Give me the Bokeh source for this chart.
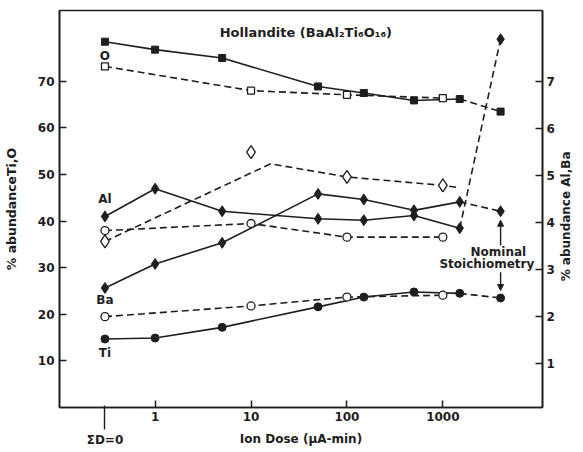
import math
from bokeh.plotting import figure
from bokeh.models import (Range1d, LinearAxis, LogAxis, FixedTicker, Label, Arrow, NormalHead)
from bokeh.embed import file_html
from bokeh.resources import INLINE

# ---------------- data ----------------
SIGMA_D0 = 0.3          # position used for the "ΣD=0" column on the log axis
NOMINAL = 4000          # position of the nominal-stoichiometry column

dose = [SIGMA_D0, 1, 5, 50, 150, 500, 1500]          # filled symbols (solid lines)
dose_open = [SIGMA_D0, 10, 100, 1000]                # open symbols (dashed lines)

# left scale: % abundance Ti, O
o_filled = [78.5, 76.8, 75.0, 68.9, 67.5, 65.9, 66.2]
o_open = [73.2, 68.0, 67.1, 66.4]
o_nominal = 63.5
ti_filled = [14.7, 14.9, 17.2, 21.6, 23.7, 24.8, 24.5]
ti_open = [19.5, 21.8, 23.7, 24.1]
ti_nominal = 23.5

# right scale: % abundance Al, Ba
al_filled = [4.12, 4.71, 4.23, 4.07, 4.04, 4.14, 3.87]
al_nominal = 7.89
ba_filled = [2.60, 3.11, 3.56, 4.60, 4.48, 4.25, 4.43]
ba_nominal = 4.23
diamond_open = [3.59, 5.49, 4.96, 4.78]
diamond_trend_x = [SIGMA_D0, 16, 100, 1000, 1400]
diamond_trend_y = [3.59, 5.24, 4.96, 4.78, 4.74]
circle_open = [3.82, 3.97, 3.68, 3.68]

x_ticks = [1, 10, 100, 1000]
left_ticks = [10, 20, 30, 40, 50, 60, 70]
right_ticks = [1, 2, 3, 4, 5, 6, 7]
RIGHT_TITLE = "% abundance Al,Ba"
RIGHT_TITLE_START = 2.74   # where the rotated right-hand title begins (right scale)

# ---------------- styling ----------------
INK = "#1e1e1e"
FONT = "DejaVu Sans"
DASH = "7 4"
LW = 1.6

p = figure(width=583, height=452, x_axis_type="log",
           x_range=Range1d(0.1007, 10940), y_range=Range1d(0, 85.2),
           output_backend="svg", toolbar_location=None,
           min_border_left=58, min_border_right=35,
           min_border_top=10, min_border_bottom=45)
p.extra_y_ranges = {"right": Range1d(0.057, 8.50)}
p.xgrid.visible = False
p.ygrid.visible = False
p.outline_line_color = INK
p.outline_line_width = 1.6
p.background_fill_color = "white"
p.border_fill_color = "white"

def style_axis(ax):
    ax.axis_line_color = INK
    ax.axis_line_width = 1.6
    ax.major_tick_line_color = INK
    ax.major_tick_line_width = 1.5
    ax.major_tick_in = 7
    ax.major_tick_out = 0
    ax.minor_tick_line_color = None
    ax.major_label_text_font = FONT
    ax.major_label_text_font_style = "bold"
    ax.major_label_text_font_size = "12px"
    ax.major_label_text_color = INK
    ax.axis_label_text_font = FONT
    ax.axis_label_text_font_style = "bold"
    ax.axis_label_text_color = INK

# main bottom axis (decade ticks)
xa = p.xaxis[0]
style_axis(xa)
xa.ticker = FixedTicker(ticks=x_ticks)
xa.major_label_overrides = {t: str(t) for t in x_ticks}
xa.major_label_standoff = 4

# second bottom axis: the "ΣD=0" marker and the axis title
xb = LogAxis(ticker=FixedTicker(ticks=[SIGMA_D0]))
style_axis(xb)
xb.axis_line_color = None
xb.major_tick_in = 18
xb.major_tick_out = 6
xb.major_tick_line_width = 1.4
xb.major_label_overrides = {SIGMA_D0: "ΣD=0"}
xb.major_label_standoff = 3
xb.axis_label = "Ion Dose (μA-min)"
xb.axis_label_text_font_size = "12px"
xb.axis_label_standoff = -18
p.add_layout(xb, "below")

ya = p.yaxis[0]
style_axis(ya)
ya.ticker = FixedTicker(ticks=left_ticks)
ya.major_label_standoff = 5
ya.axis_label = "% abundanceTi,O"
ya.axis_label_text_font_size = "12.5px"
ya.axis_label_standoff = 16

ra = LinearAxis(y_range_name="right", ticker=FixedTicker(ticks=right_ticks))
style_axis(ra)
ra.major_label_standoff = 4
p.add_layout(ra, "right")

# right-hand title, reading bottom-to-top like the left one
rt = LinearAxis(y_range_name="right", ticker=FixedTicker(ticks=[RIGHT_TITLE_START]))
style_axis(rt)
rt.axis_line_color = None
rt.major_tick_line_color = None
rt.major_tick_in = 0
rt.major_label_overrides = {RIGHT_TITLE_START: RIGHT_TITLE}
rt.major_label_text_font_size = "12px"
rt.major_label_orientation = math.pi / 2
rt.major_label_standoff = 9
p.add_layout(rt, "right")

# ---------------- series ----------------
# O (left)
p.line(dose, o_filled, line_color=INK, line_width=LW)
p.line([dose[-1], NOMINAL], [o_filled[-1], o_nominal], line_color=INK, line_width=LW, line_dash=DASH)
p.line(dose_open, o_open, line_color=INK, line_width=LW, line_dash=DASH)
p.scatter(dose + [NOMINAL], o_filled + [o_nominal], marker="square", size=7,
          fill_color=INK, line_color=INK)
p.scatter(dose_open, o_open, marker="square", size=7, fill_color="white",
          line_color=INK, line_width=1.3)

# Ti (left)
p.line(dose, ti_filled, line_color=INK, line_width=LW)
p.line([dose[-1], NOMINAL], [ti_filled[-1], ti_nominal], line_color=INK, line_width=LW, line_dash=DASH)
p.line(dose_open, ti_open, line_color=INK, line_width=LW, line_dash=DASH)
p.scatter(dose + [NOMINAL], ti_filled + [ti_nominal], marker="circle", size=8,
          fill_color=INK, line_color=INK)
p.scatter(dose_open, ti_open, marker="circle", size=8, fill_color="white",
          line_color=INK, line_width=1.3)

# Al (right)
p.line(dose, al_filled, line_color=INK, line_width=LW, y_range_name="right")
p.line([dose[-1], NOMINAL], [al_filled[-1], al_nominal], line_color=INK, line_width=LW,
       line_dash=DASH, y_range_name="right")
p.scatter(dose + [NOMINAL], al_filled + [al_nominal], marker="diamond", size=11,
          fill_color=INK, line_color=INK, y_range_name="right")

# Ba (right)
p.line(dose, ba_filled, line_color=INK, line_width=LW, y_range_name="right")
p.line([dose[-1], NOMINAL], [ba_filled[-1], ba_nominal], line_color=INK, line_width=LW,
       line_dash=DASH, y_range_name="right")
p.scatter(dose + [NOMINAL], ba_filled + [ba_nominal], marker="diamond", size=11,
          fill_color=INK, line_color=INK, y_range_name="right")

# open diamonds with dashed trend (right)
p.line(diamond_trend_x, diamond_trend_y, line_color=INK, line_width=LW, line_dash=DASH,
       y_range_name="right")
p.scatter(dose_open, diamond_open, marker="diamond", size=13, fill_color="white",
          line_color=INK, line_width=1.3, y_range_name="right")

# open circles (right)
p.line(dose_open, circle_open, line_color=INK, line_width=LW, line_dash=DASH,
       y_range_name="right")
p.scatter(dose_open, circle_open, marker="circle", size=8, fill_color="white",
          line_color=INK, line_width=1.3, y_range_name="right")

# ---------------- annotations (inside the frame) ----------------
def lab(x, y, text, size="12px", align="center", rng="default"):
    p.add_layout(Label(x=x, y=y, text=text, text_font=FONT, text_font_style="bold",
                       text_font_size=size, text_color=INK, text_align=align,
                       text_baseline="middle", y_range_name=rng))

lab(37.3, 80.5, "Hollandite (BaAl₂Ti₆O₁₆)", size="13px")
lab(SIGMA_D0, 75.5, "O")
lab(SIGMA_D0, 44.8, "Al")
lab(SIGMA_D0, 23.1, "Ba")
lab(SIGMA_D0, 11.8, "Ti")
lab(3790, 33.3, "Nominal")
lab(2880, 30.8, "Stoichiometry")

# nominal stoichiometry arrows
p.add_layout(Arrow(x_start=NOMINAL, y_start=ba_nominal - 0.73, x_end=NOMINAL,
                   y_end=ba_nominal - 0.19, y_range_name="right",
                   line_color=INK, line_width=1.4,
                   end=NormalHead(size=6, fill_color=INK, line_color=INK)))
p.add_layout(Arrow(x_start=NOMINAL, y_start=ti_nominal + 5.5, x_end=NOMINAL,
                   y_end=ti_nominal + 1.6,
                   line_color=INK, line_width=1.4,
                   end=NormalHead(size=6, fill_color=INK, line_color=INK)))

open("out.html", "w").write(file_html(p, INLINE))
